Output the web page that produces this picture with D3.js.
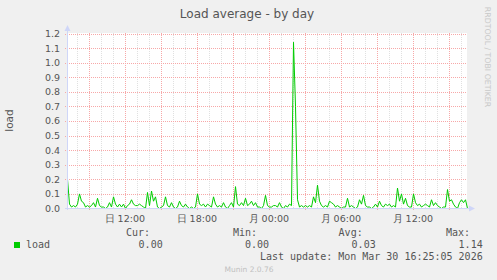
<!DOCTYPE html>
<html>
<head>
<meta charset="utf-8">
<script src="https://cdn.jsdelivr.net/npm/d3@7/dist/d3.min.js"></script>
<style>
  body { margin: 0; background: #f0f0f0; }
  svg { display: block; }
</style>
</head>
<body>
<div id="chart"></div>
<script>
// Dados: carga média a cada 10 minutos
const startTime = new Date(2026, 2, 29, 7, 13, 30);
const stepMinutes = 10;
const loadValues = [
  0.20, 0.03, 0.01, 0.02, 0.01, 0.03, 0.10, 0.05, 0.04, 0.01,
  0.02, 0.01, 0.02, 0.04, 0.01, 0.07, 0.02, 0.01, 0.01, 0.00,
  0.01, 0.04, 0.01, 0.08, 0.03, 0.01, 0.03, 0.01, 0.03, 0.00,
  0.02, 0.03, 0.06, 0.03, 0.02, 0.02, 0.03, 0.02, 0.01, 0.00,
  0.11, 0.02, 0.12, 0.05, 0.08, 0.01, 0.00, 0.01, 0.02, 0.08,
  0.02, 0.01, 0.04, 0.01, 0.00, 0.01, 0.05, 0.02, 0.01, 0.03,
  0.01, 0.00, 0.01, 0.00, 0.01, 0.10, 0.03, 0.02, 0.03, 0.01,
  0.03, 0.02, 0.01, 0.08, 0.03, 0.01, 0.02, 0.01, 0.04, 0.01,
  0.00, 0.02, 0.04, 0.01, 0.15, 0.03, 0.02, 0.04, 0.02, 0.07,
  0.02, 0.03, 0.05, 0.02, 0.04, 0.01, 0.01, 0.00, 0.02, 0.09,
  0.02, 0.01, 0.01, 0.02, 0.02, 0.01, 0.04, 0.01, 0.00, 0.02,
  0.01, 0.03, 0.02, 1.14, 0.70, 0.06, 0.01, 0.02, 0.01, 0.02,
  0.01, 0.02, 0.01, 0.08, 0.04, 0.16, 0.05, 0.02, 0.01, 0.02,
  0.01, 0.05, 0.04, 0.03, 0.01, 0.02, 0.01, 0.00, 0.01, 0.01,
  0.07, 0.01, 0.02, 0.01, 0.00, 0.01, 0.06, 0.03, 0.09, 0.02,
  0.01, 0.01, 0.00, 0.01, 0.03, 0.01, 0.05, 0.02, 0.01, 0.03,
  0.02, 0.03, 0.01, 0.02, 0.01, 0.14, 0.05, 0.10, 0.03, 0.07,
  0.02, 0.01, 0.01, 0.10, 0.04, 0.02, 0.03, 0.01, 0.02, 0.03,
  0.02, 0.01, 0.06, 0.02, 0.04, 0.02, 0.01, 0.00, 0.01, 0.01,
  0.13, 0.05, 0.06, 0.03, 0.01, 0.00, 0.04, 0.06, 0.04, 0.06,
  0.00
];

// Eixos e rótulos
const yTicks = [0, 0.1, 0.2, 0.3, 0.4, 0.5, 0.6, 0.7, 0.8, 0.9, 1.0, 1.1, 1.2];
const weekdays = ["日", "月", "火", "水", "木", "金", "土"];
const statLabels = ["Cur:", "Min:", "Avg:", "Max:"];
const statValues = ["0.00", "0.00", "0.03", "1.14"];
const seriesName = "load";
const lastUpdate = "Last update: Mon Mar 30 16:25:05 2026";

const W = 497, H = 280;
const plot = { left: 67, right: 467, top: 33, bottom: 208 };

const data = loadValues.map((v, i) => ({
  t: new Date(startTime.getTime() + i * stepMinutes * 60000),
  v: v,
}));

const svg = d3.select("#chart").append("svg")
  .attr("width", W).attr("height", H)
  .style("font-family", "'DejaVu Sans', sans-serif");

svg.append("rect").attr("width", W).attr("height", H).attr("fill", "#f0f0f0");

const x = d3.scaleTime()
  .domain([data[0].t, data[data.length - 1].t])
  .range([plot.left + 0.5, plot.right + 0.5]);
const y = d3.scaleLinear()
  .domain([0, 1.2])
  .range([plot.bottom + 0.5, plot.top + 0.5]);

// Área do gráfico
svg.append("rect")
  .attr("x", plot.left).attr("y", plot.top)
  .attr("width", plot.right - plot.left).attr("height", plot.bottom - plot.top)
  .attr("fill", "#ffffff");

const grid = svg.append("g").attr("shape-rendering", "crispEdges").attr("fill", "none");

// Grade vertical: horas (cinza) e a cada 3h (vermelha)
const hours = d3.timeHour.range(x.domain()[0], x.domain()[1]);
grid.selectAll("line.minor-x")
  .data(hours.filter((h) => h.getHours() % 3 !== 0))
  .enter().append("line")
  .attr("x1", (d) => Math.round(x(d)) + 0.5).attr("x2", (d) => Math.round(x(d)) + 0.5)
  .attr("y1", plot.top).attr("y2", plot.bottom)
  .attr("stroke", "#e0e0e0").attr("stroke-dasharray", "1,1");

grid.selectAll("line.major-x")
  .data(hours.filter((h) => h.getHours() % 3 === 0))
  .enter().append("line")
  .attr("x1", (d) => Math.round(x(d)) + 0.5).attr("x2", (d) => Math.round(x(d)) + 0.5)
  .attr("y1", plot.top).attr("y2", plot.bottom + 2)
  .attr("stroke", "#f7a8a8").attr("stroke-dasharray", "1,1");

// Grade horizontal
grid.selectAll("line.major-y")
  .data(yTicks.slice(1))
  .enter().append("line")
  .attr("x1", plot.left - 2).attr("x2", plot.right)
  .attr("y1", (d) => Math.round(y(d)) + 0.5).attr("y2", (d) => Math.round(y(d)) + 0.5)
  .attr("stroke", "#f7a8a8").attr("stroke-dasharray", "1,1");

// Rótulos do eixo Y
svg.append("g")
  .selectAll("text")
  .data(yTicks)
  .enter().append("text")
  .attr("x", 60)
  .attr("y", (d) => y(d))
  .attr("dy", "0.36em")
  .attr("text-anchor", "end")
  .attr("font-size", "9.5px")
  .attr("fill", "#555")
  .text((d) => d3.format(".1f")(d));

// Rótulos do eixo X a cada 6h
const xTicks = hours.filter((h) => h.getHours() % 6 === 0);
svg.append("g")
  .selectAll("text")
  .data(xTicks)
  .enter().append("text")
  .attr("x", (d) => x(d))
  .attr("y", 222)
  .attr("text-anchor", "middle")
  .attr("font-size", "9.5px")
  .attr("fill", "#555")
  .text((d) => weekdays[d.getDay()] + " " + d3.timeFormat("%H:%M")(d));

// Linha de dados
svg.append("path")
  .datum(data)
  .attr("fill", "none")
  .attr("stroke", "#00cc00")
  .attr("stroke-width", 1)
  .attr("stroke-linejoin", "round")
  .attr("d", d3.line().x((d) => x(d.t)).y((d) => y(d.v)));

// Eixos com setas
const axisColor = "#cfd6f8";
svg.append("line")
  .attr("x1", plot.left + 0.5).attr("x2", plot.left + 0.5)
  .attr("y1", plot.bottom + 2).attr("y2", plot.top - 4)
  .attr("stroke", axisColor).attr("shape-rendering", "crispEdges");
svg.append("line")
  .attr("x1", plot.left - 2).attr("x2", plot.right + 4)
  .attr("y1", plot.bottom + 0.5).attr("y2", plot.bottom + 0.5)
  .attr("stroke", axisColor).attr("shape-rendering", "crispEdges");
svg.append("path")
  .attr("d", `M${plot.left - 2.5},${plot.top - 2} L${plot.left + 0.5},${plot.top - 8} L${plot.left + 3.5},${plot.top - 2} Z`)
  .attr("fill", axisColor);
svg.append("path")
  .attr("d", `M${plot.right + 2},${plot.bottom - 2.5} L${plot.right + 8},${plot.bottom + 0.5} L${plot.right + 2},${plot.bottom + 3.5} Z`)
  .attr("fill", axisColor);

// Título
svg.append("text")
  .attr("x", 247).attr("y", 18)
  .attr("text-anchor", "middle")
  .attr("font-size", "12px")
  .attr("fill", "#555")
  .text("Load average - by day");

// Rótulo vertical
svg.append("text")
  .attr("transform", `translate(13, ${(plot.top + plot.bottom) / 2}) rotate(-90)`)
  .attr("text-anchor", "middle")
  .attr("font-size", "10.5px")
  .attr("fill", "#555")
  .text(seriesName);

// Marca RRDtool
svg.append("text")
  .attr("transform", "translate(485, 57) rotate(90)")
  .attr("text-anchor", "middle")
  .attr("font-size", "7.8px")
  .attr("fill", "#c8c8c8")
  .text("RRDTOOL / TOBI OETIKER");

// Legenda
const mono = "'DejaVu Sans Mono', monospace";
svg.append("rect")
  .attr("x", 14).attr("y", 242).attr("width", 6).attr("height", 6)
  .attr("fill", "#00cc00");
svg.append("text")
  .attr("x", 26).attr("y", 248)
  .attr("font-family", mono).attr("font-size", "10px").attr("fill", "#555")
  .text(seriesName);

const statRight = [162.7, 269, 375.7, 482.7];
const statLabelRight = [150, 257, 362.7, 470];
statLabels.forEach((label, i) => {
  svg.append("text")
    .attr("x", statLabelRight[i]).attr("y", 236)
    .attr("text-anchor", "end")
    .attr("font-family", mono).attr("font-size", "10px").attr("fill", "#555")
    .text(label);
  svg.append("text")
    .attr("x", statRight[i]).attr("y", 248)
    .attr("text-anchor", "end")
    .attr("font-family", mono).attr("font-size", "10px").attr("fill", "#555")
    .text(statValues[i]);
});

svg.append("text")
  .attr("x", 482.7).attr("y", 260)
  .attr("text-anchor", "end")
  .attr("font-family", mono).attr("font-size", "10px").attr("fill", "#555")
  .text(lastUpdate);

svg.append("text")
  .attr("x", 249).attr("y", 272)
  .attr("text-anchor", "middle")
  .attr("font-size", "7.5px")
  .attr("fill", "#c0c0c0")
  .text("Munin 2.0.76");
</script>
</body>
</html>
